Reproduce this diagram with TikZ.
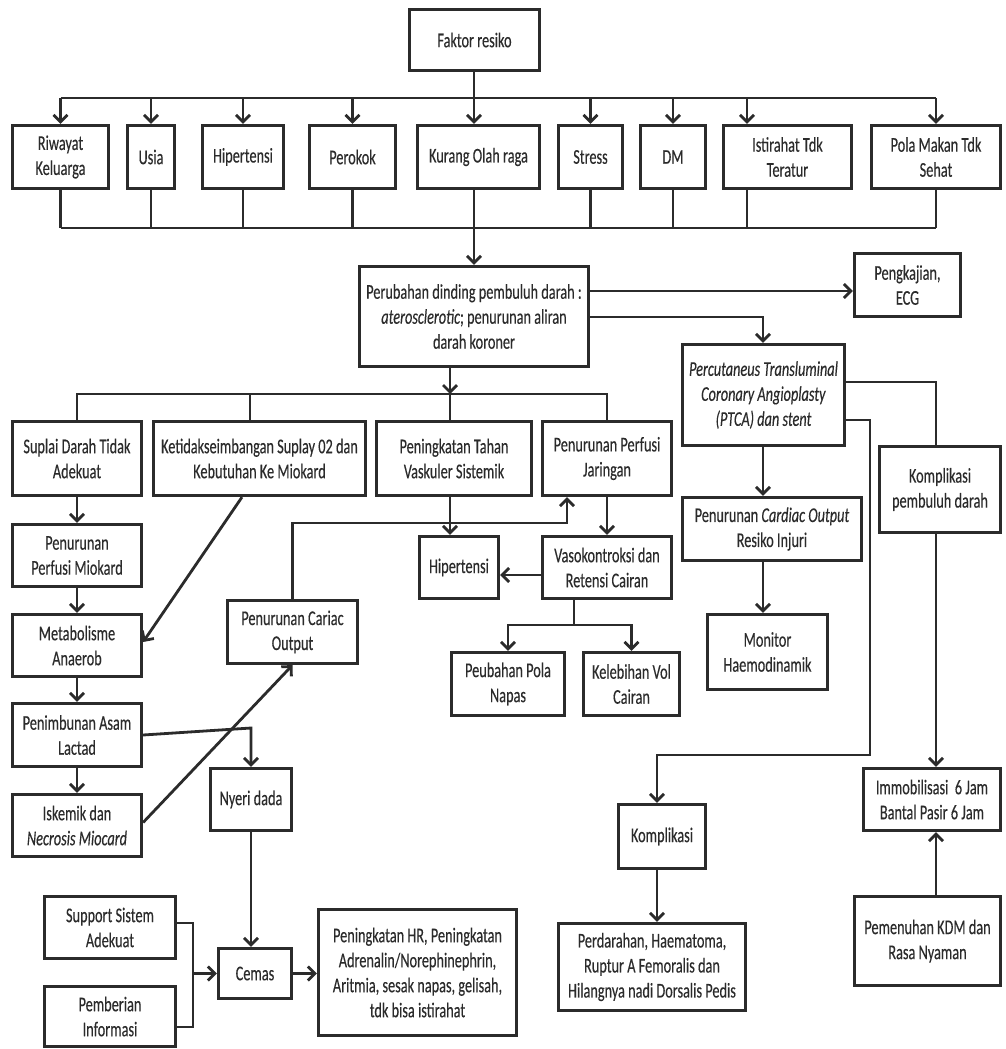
\documentclass[tikz,border=0pt]{standalone}
\usepackage{fontspec}
\setmainfont{Carlito}[FakeStretch=0.68,FakeBold=0.3]
\usetikzlibrary{arrows.meta}
\definecolor{ink}{HTML}{2B2B2B}
\newcommand\bx[6]{\node[box, minimum width={(#4-#2-2.6)*1pt}, minimum height={(#5-#3-2.6)*1pt}] (#1) at ({(#2+#4)/2},{(#3+#5)/2}) {#6};}
\begin{document}
\begin{tikzpicture}[x=1pt,y=-1pt,
  box/.style={draw=ink, line width=2.8pt, align=center, inner sep=1pt, text=ink, font=\fontsize{21}{25}\selectfont},
  ln/.style={draw=ink, line width=2.8pt},
  arr/.style={ln, -{Straight Barb[length=7pt,width=14pt]}}]
\useasboundingbox (0,0) rectangle (1006,1049);
% helper coordinates
\coordinate (tb) at (0,98);
\coordinate (bb) at (0,228);
\coordinate (cx) at (474,0);
\coordinate (ix) at (747,0);
\coordinate (y291) at (0,291);
\coordinate (y317) at (0,317);
\coordinate (y382) at (0,382);
\coordinate (y420) at (0,420);
\coordinate (y755) at (0,755);
\coordinate (r870) at (870,0);
\coordinate (ptcax) at (763,0);
\coordinate (kx) at (936,0);
\coordinate (kpx) at (657,0);
\coordinate (mb) at (0,394);
\coordinate (px) at (450,0);
\coordinate (sx) at (77,0);
\coordinate (kdx) at (250,0);
\coordinate (jx) at (607,0);
\coordinate (jx2) at (567,0);
\coordinate (y523) at (0,523);
\coordinate (y575) at (0,575);
\coordinate (y625) at (0,625);
\coordinate (vx) at (574,0);
\coordinate (y728) at (0,728);
\coordinate (brx) at (193,0);
\coordinate (y923) at (0,923);
\coordinate (y1027) at (0,1027);
% boxes
\bx{faktor}{408}{8}{541}{72}{Faktor resiko}
\bx{riwayat}{11}{124}{110}{190}{Riwayat\\Keluarga}
\bx{usia}{126}{124}{176}{190}{Usia}
\bx{hiper}{201}{124}{285}{190}{Hipertensi}
\bx{perokok}{308}{124}{397}{190}{Perokok}
\bx{kurang}{416}{124}{541}{190}{Kurang Olah raga}
\bx{stress}{557}{124}{624}{190}{Stress}
\bx{dm}{639}{124}{707}{190}{DM}
\bx{istirahat}{722}{124}{853}{190}{Istirahat Tdk\\Teratur}
\bx{pola}{870}{124}{1002}{190}{Pola Makan Tdk\\Sehat}
\bx{peru}{358}{265}{590}{368}{Perubahan dinding pembuluh darah :\\\textit{aterosclerotic}; penurunan aliran\\darah koroner}
\bx{peng}{853}{252}{962}{318}{Pengkajian,\\ECG}
\bx{ptca}{681}{343}{846}{447}{\textit{Percutaneus Transluminal}\\\textit{Coronary Angioplasty}\\\textit{(PTCA) dan stent}}
\bx{co}{681}{496}{863}{562}{Penurunan \textit{Cardiac Output}\\Resiko Injuri}
\bx{mon}{706}{613}{829}{691}{Monitor\\Haemodinamik}
\bx{kpd}{878}{445}{1002}{534}{Komplikasi\\pembuluh darah}
\bx{imm}{862}{767}{1002}{832}{Immobilisasi~~6 Jam\\Bantal Pasir 6 Jam}
\bx{pem}{853}{895}{1002}{987}{Pemenuhan KDM dan\\Rasa Nyaman}
\bx{komp}{617}{803}{707}{870}{Komplikasi}
\bx{perd}{557}{922}{747}{1012}{Perdarahan, Haematoma,\\Ruptur A Femoralis dan\\Hilangnya nadi Dorsalis Pedis}
\bx{supl}{11}{420}{143}{497}{Suplai Darah Tidak\\Adekuat}
\bx{ketid}{152}{420}{367}{497}{Ketidakseimbangan Suplay 02 dan\\Kebutuhan Ke Miokard}
\bx{pth}{375}{420}{533}{497}{Peningkatan Tahan\\Vaskuler Sistemik}
\bx{ppj}{541}{420}{673}{497}{Penurunan Perfusi\\Jaringan}
\bx{ppm}{11}{523}{143}{588}{Penurunan\\Perfusi Miokard}
\bx{meta}{11}{613}{143}{678}{Metabolisme\\Anaerob}
\bx{penim}{11}{702}{143}{768}{Penimbunan Asam\\Lactad}
\bx{isk}{11}{793}{143}{858}{Iskemik dan\\\textit{Necrosis Miocard}}
\bx{cariac}{226}{599}{359}{665}{Penurunan Cariac\\Output}
\bx{hip2}{418}{535}{500}{600}{Hipertensi}
\bx{vaso}{541}{535}{673}{600}{Vasokontroksi dan\\Retensi Cairan}
\bx{peub}{450}{651}{566}{717}{Peubahan Pola\\Napas}
\bx{kel}{582}{651}{681}{717}{Kelebihan Vol\\Cairan}
\bx{nyeri}{209}{767}{293}{832}{Nyeri dada}
\bx{cemas}{217}{947}{293}{1000}{Cemas}
\bx{supp}{43}{895}{177}{960}{Support Sistem\\Adekuat}
\bx{pemb}{43}{985}{177}{1048}{Pemberian\\Informasi}
\bx{phr}{317}{908}{518}{1037}{Peningkatan HR, Peningkatan\\Adrenalin/Norephinephrin,\\Aritmia, sesak napas, gelisah,\\tdk bisa istirahat}
% top bus
\draw[arr] (faktor.south -| cx) -- (cx |- kurang.north);
\draw[ln] (riwayat.north |- tb) -- (pola.north |- tb);
\foreach \n in {riwayat,usia,hiper,perokok,stress,dm,pola}
  \draw[arr] (\n.north |- tb) -- (\n.north);
\draw[arr] (ix |- tb) -- (ix |- istirahat.north);
% bottom bus
\draw[ln] (riwayat.south |- bb) -- (pola.south |- bb);
\foreach \n in {riwayat,usia,hiper,perokok,stress,dm,pola}
  \draw[ln] (\n.south) -- (\n.south |- bb);
\draw[ln] (ix |- istirahat.south) -- (ix |- bb);
\draw[ln] (cx |- kurang.south) -- (cx |- bb);
\draw[arr] (cx |- bb) -- (cx |- peru.north);
% right side
\draw[arr] (peru.east |- y291) -- (peng.west |- y291);
\draw[arr] (peru.east |- y317) -| (ptcax |- ptca.north);
\draw[arr] (ptcax |- ptca.south) -- (ptcax |- co.north);
\draw[arr] (ptcax |- co.south) -- (ptcax |- mon.north);
\draw[ln] (ptca.east |- y382) -| (kx |- kpd.north);
\draw[arr] (kx |- kpd.south) -- (kx |- imm.north);
\draw[arr] (kx |- pem.north) -- (kx |- imm.south);
\draw[arr] (ptca.east |- y420) -| (r870 |- y755) -| (kpx |- komp.north);
\draw[arr] (kpx |- komp.south) -- (kpx |- perd.north);
% middle bus
\draw[arr] (px |- peru.south) -- (px |- mb);
\draw[ln] (px |- mb) -- (px |- pth.north);
\draw[ln] (sx |- supl.north) |- (jx |- mb) -- (jx |- ppj.north);
\draw[ln] (kdx |- mb) -- (kdx |- ketid.north);
% left column
\draw[arr] (supl) -- (ppm);
\draw[arr] (ppm) -- (meta);
\draw[arr] (meta) -- (penim);
\draw[arr] (penim) -- (isk);
\draw[arr] ([xshift=-17.5pt]ketid.south) -- ([yshift=3.5pt]meta.east);
\draw[arr] ([yshift=3pt]isk.east) -- (cariac.south);
\draw[arr] (cariac.north) |- (jx2 |- y523) -- (jx2 |- ppj.south);
% middle
\draw[arr] (px |- pth.south) -- (px |- hip2.north);
\draw[arr] (jx |- ppj.south) -- (jx |- vaso.north);
\draw[arr] (vaso.west |- y575) -- (hip2.east |- y575);
\draw[ln] (vx |- vaso.south) -- (vx |- y625);
\draw[arr] (vx |- y625) -| (peub.north);
\draw[arr] (vx |- y625) -| (kel.north);
% bottom left
\draw[arr] (penim.east) -- (nyeri.north |- y728) -- (nyeri.north);
\draw[arr] (nyeri.south) -- (nyeri.south |- cemas.north);
\draw[ln] (supp.east |- y923) -| (brx |- y1027) -- (pemb.east |- y1027);
\draw[arr] (brx |- cemas.west) -- (cemas.west);
\draw[arr] (cemas.east) -- (phr.west |- cemas.east);
\end{tikzpicture}
\end{document}
